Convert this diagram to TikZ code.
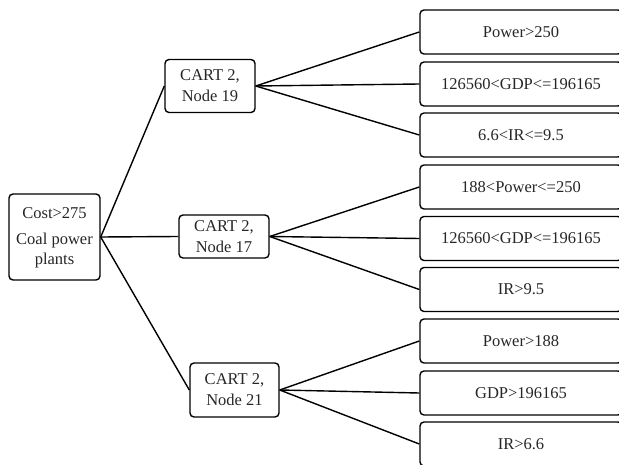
\documentclass[tikz,border=0pt]{standalone}
\usepackage{fontspec}
\setmainfont{Liberation Serif}
\begin{document}
\begin{tikzpicture}[x=1pt,y=-1pt,
  box/.style={draw, line width=1.4pt, rounded corners=4pt, align=center, inner sep=0pt,
    font=\fontsize{16.5}{21}\selectfont, text=black!85},
  leaf/.style={box, minimum width=202pt, minimum height=44pt},
  conn/.style={line width=1.4pt}]
\useasboundingbox (0,0) rectangle (619,465);
\clip (0,0) rectangle (619,465);
\node[box, minimum width=91pt, minimum height=86pt] (root) at (54.5,237) {};
\node[font=\fontsize{16.5}{20}\selectfont, text=black!85, align=center] (roottxt) at (54.5,238) {Cost>275\\[6pt]Coal power\\plants};
\node[box, minimum width=90pt, minimum height=53pt] (n19) at (210,86) {CART 2,\\Node 19};
\node[box, minimum width=90pt, minimum height=43pt] (n17) at (224,236.5) {CART 2,\\Node 17};
\node[box, minimum width=89pt, minimum height=54pt] (n21) at (234.5,390) {CART 2,\\Node 21};
\node[leaf] (a1) at (521,32) {Power>250};
\node[leaf] (a2) at (521,84) {126560<GDP<=196165};
\node[leaf] (a3) at (521,135) {6.6<IR<=9.5};
\node[leaf] (b1) at (521,187) {188<Power<=250};
\node[leaf] (b2) at (521,238.5) {126560<GDP<=196165};
\node[leaf] (b3) at (521,289.5) {IR>9.5};
\node[leaf] (c1) at (521,341) {Power>188};
\node[leaf] (c2) at (521,393) {GDP>196165};
\node[leaf] (c3) at (521,444) {IR>6.6};
\draw[conn] (root.east) -- (n19.west);
\draw[conn] (root.east) -- (n17.west);
\draw[conn] (root.east) -- (n21.west);
\foreach \p/\c in {n19/a1,n19/a2,n19/a3,n17/b1,n17/b2,n17/b3,n21/c1,n21/c2,n21/c3}
  \draw[conn] (\p.east) -- (\c.west);
\end{tikzpicture}
\end{document}
